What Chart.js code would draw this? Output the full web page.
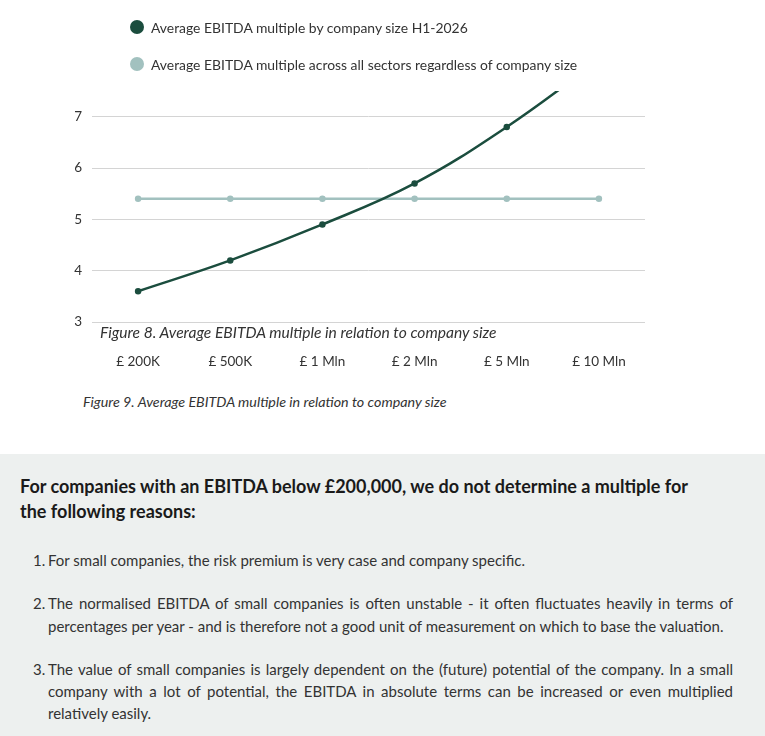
<!DOCTYPE html>
<html>
<head>
<meta charset="utf-8">
<script src="https://cdn.jsdelivr.net/npm/chart.js@4.4.1/dist/chart.umd.min.js"></script>
<style>
  html, body { margin: 0; padding: 0; background: #ffffff; }
  body { width: 765px; height: 736px; overflow: hidden; font-family: Lato, "Noto Sans", sans-serif; color: #333; position: relative; }
  #wrap { position: absolute; left: 0; top: 0; width: 765px; height: 382px; }
  #legend { position: absolute; left: 130px; top: 0; }
  .lg { position: absolute; left: 0; white-space: nowrap; font-size: 13.9px; color: #333; display: flex; align-items: center; height: 20px; }
  .dot { width: 14px; height: 14px; border-radius: 50%; margin-right: 7px; flex: none; }
  .cap { position: absolute; font-style: italic; white-space: nowrap; color: #333; }
  #box { position: absolute; left: 0; top: 454px; width: 765px; height: 282px; background: #edf0ef; }
  #box h3 { margin: 0; position: absolute; left: 20px; top: 20px; width: 680px; font-size: 18px; line-height: 25px; font-weight: 700; color: #1a1a1a; }
  #box ol { margin: 0; padding: 0; list-style: none; position: absolute; left: 33px; top: 95px; width: 700px; font-size: 15px; line-height: 22.3px; color: #333; }
  #box li { position: relative; padding-left: 15px; margin-bottom: 21px; text-align: justify; }
  #box li span.n { position: absolute; left: 0; top: 0; }
</style>
</head>
<body>
<div id="wrap"><canvas id="c"></canvas></div>
<div id="legend"></div>
<div class="cap" id="fig8" style="left:100px; top:323px; font-size:15.6px;"></div>
<div class="cap" id="fig9" style="left:83px; top:393px; font-size:14.3px;"></div>
<div id="box">
  <h3>For companies with an EBITDA below £200,000, we do not determine a multiple for the following reasons:</h3>
  <ol>
    <li><span class="n">1.</span>For small companies, the risk premium is very case and company specific.</li>
    <li><span class="n">2.</span>The normalised EBITDA of small companies is often unstable - it often fluctuates heavily in terms of percentages per year - and is therefore not a good unit of measurement on which to base the valuation.</li>
    <li><span class="n">3.</span>The value of small companies is largely dependent on the (future) potential of the company. In a small company with a lot of potential, the EBITDA in absolute terms can be increased or even multiplied relatively easily.</li>
  </ol>
</div>
<script>
const categories = ["£ 200K", "£ 500K", "£ 1 Mln", "£ 2 Mln", "£ 5 Mln", "£ 10 Mln"];
const bySize = [3.6, 4.2, 4.9, 5.7, 6.8, 8.1];
const allSectors = [5.4, 5.4, 5.4, 5.4, 5.4, 5.4];
const seriesNames = ["Average EBITDA multiple by company size H1-2026", "Average EBITDA multiple across all sectors regardless of company size"];
const seriesColors = ["#1b4d3e", "#a2c1bf"];
const yTicks = [3, 4, 5, 6, 7];
const fig8 = "Figure 8. Average EBITDA multiple in relation to company size";
const fig9 = "Figure 9. Average EBITDA multiple in relation to company size";

document.getElementById('fig8').textContent = fig8;
document.getElementById('fig9').textContent = fig9;

const legend = document.getElementById('legend');
seriesNames.forEach((name, i) => {
  const d = document.createElement('div');
  d.className = 'lg';
  d.style.top = (17 + i * 37) + 'px';
  d.innerHTML = '<span class="dot" style="background:' + seriesColors[i] + '"></span><span></span>';
  d.lastChild.textContent = name;
  legend.appendChild(d);
});

const ctx = document.getElementById('c');
new Chart(ctx, {
  type: 'line',
  data: {
    labels: categories,
    datasets: [
      { label: seriesNames[0], data: bySize, borderColor: seriesColors[0], backgroundColor: seriesColors[0],
        borderWidth: 2.5, pointRadius: 2, pointHoverRadius: 2, tension: 0.4, fill: false, order: 1 },
      { label: seriesNames[1], data: allSectors, borderColor: seriesColors[1], backgroundColor: seriesColors[1],
        borderWidth: 2.5, pointRadius: 2, pointHoverRadius: 2, tension: 0, fill: false, order: 2 }
    ]
  },
  options: {
    responsive: true,
    maintainAspectRatio: false,
    animation: false,
    layout: { padding: { top: 91, right: 120, left: 0, bottom: 0 } },
    plugins: { legend: { display: false }, tooltip: { enabled: false } },
    scales: {
      x: {
        offset: true,
        grid: { display: false, drawTicks: false },
        border: { display: false },
        ticks: { padding: 32, color: '#333', font: { family: 'Lato', size: 13.5 }, maxRotation: 0 },
        afterFit: s => { s.height = 60; }
      },
      y: {
        min: 3, max: 7.5,
        afterBuildTicks: s => { s.ticks = yTicks.map(v => ({ value: v })); },
        grid: { color: '#d4d4d4', lineWidth: 1, drawTicks: false },
        border: { display: false },
        ticks: { padding: 10, color: '#333', font: { family: 'Lato', size: 13.5 } },
        afterFit: s => { s.width = 92; }
      }
    }
  }
});
</script>
</body>
</html>
